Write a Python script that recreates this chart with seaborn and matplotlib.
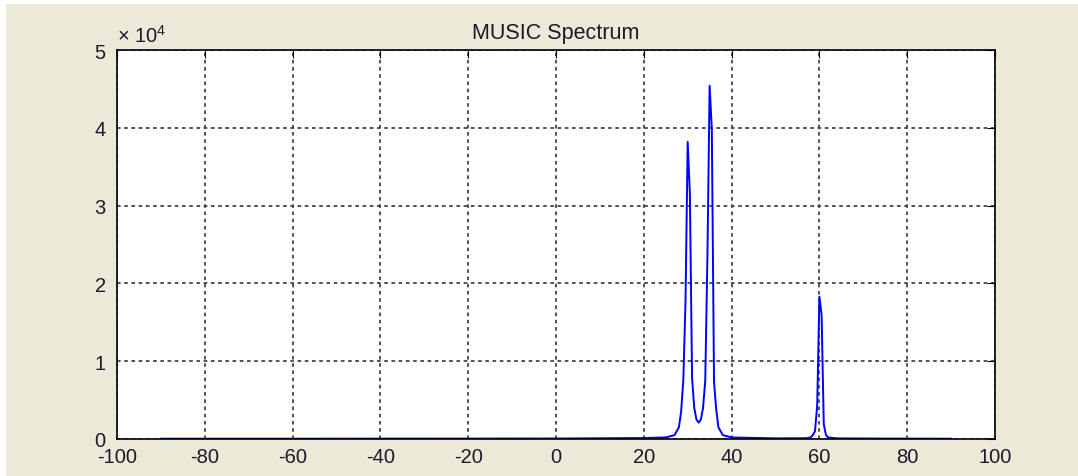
import numpy as np
import pandas as pd
import seaborn as sns
import matplotlib.pyplot as plt
from matplotlib.patches import Rectangle

# scanned angles (deg) and MUSIC pseudo-spectrum values
angles = [-90, -60, -30, 0, 20, 25, 27, 28, 28.5, 29, 29.5, 30, 30.5, 31, 31.5,
          32, 32.5, 33, 33.5, 34, 34.5, 35, 35.5, 36, 36.5, 37, 38, 40, 50,
          57, 58, 58.5, 59, 59.5, 60, 60.5, 61, 61.5, 62, 64, 75, 90]
spectrum = [40, 40, 50, 60, 120, 200, 500, 1500, 3500, 7500, 17500, 38200, 31500,
            7800, 4000, 2500, 2100, 2500, 4000, 7500, 23600, 45400, 39800, 7300,
            3800, 1500, 500, 200, 80, 100, 200, 500, 1000, 4300, 18300, 16000,
            1900, 500, 200, 80, 50, 40]
xticks = list(range(-100, 101, 20))
yticks = [0, 10000, 20000, 30000, 40000, 50000]
ytick_labels = ['0', '1', '2', '3', '4', '5']

df = pd.DataFrame({'angle': angles, 'P': spectrum})

sns.set_style('white')
plt.rcParams['font.family'] = ['Liberation Sans', 'DejaVu Sans']
plt.rcParams['mathtext.fontset'] = 'custom'
plt.rcParams['mathtext.rm'] = 'Liberation Sans'
plt.rcParams['mathtext.it'] = 'Liberation Sans'
plt.rcParams['axes.unicode_minus'] = False

fig = plt.figure(figsize=(10.78, 4.77), dpi=100, facecolor='white')
# beige matlab-style window background
fig.patches.append(Rectangle((0.0056, 0.0), 1.0, 0.9895, transform=fig.transFigure,
                             facecolor='#ECE9D8', edgecolor='none', zorder=-10))
ax = fig.add_axes([0.1085, 0.0776, 0.8145, 0.8154])
ax.set_facecolor('white')

sns.lineplot(data=df, x='angle', y='P', ax=ax, color='blue', linewidth=1.4)

ax.set_xlim(-100, 100)
ax.set_ylim(0, 50000)
ax.set_xticks(xticks)
ax.set_yticks(yticks)
ax.set_yticklabels(ytick_labels)
ax.set_xlabel('')
ax.set_ylabel('')
ax.set_title('MUSIC Spectrum', fontsize=15.5, pad=9, color='#1a1a2a')
ax.text(0.0, 1.012, r'$\times\ 10^{4}$', transform=ax.transAxes, fontsize=14.5,
        ha='left', va='bottom', color='#1a1a2a')

ax.grid(True, color='#444444', linestyle=(0, (2, 2)), linewidth=1.3)
ax.tick_params(direction='in', length=6, top=True, right=True, labelsize=14.5,
               labelcolor='#1a1a2a', color='black')
ax.tick_params(axis='y', pad=8)
ax.tick_params(axis='x', pad=6)
for s in ax.spines.values():
    s.set_visible(True)
    s.set_color('black')
    s.set_linewidth(1.2)

fig.savefig('out.png', dpi=100, facecolor=fig.get_facecolor())
